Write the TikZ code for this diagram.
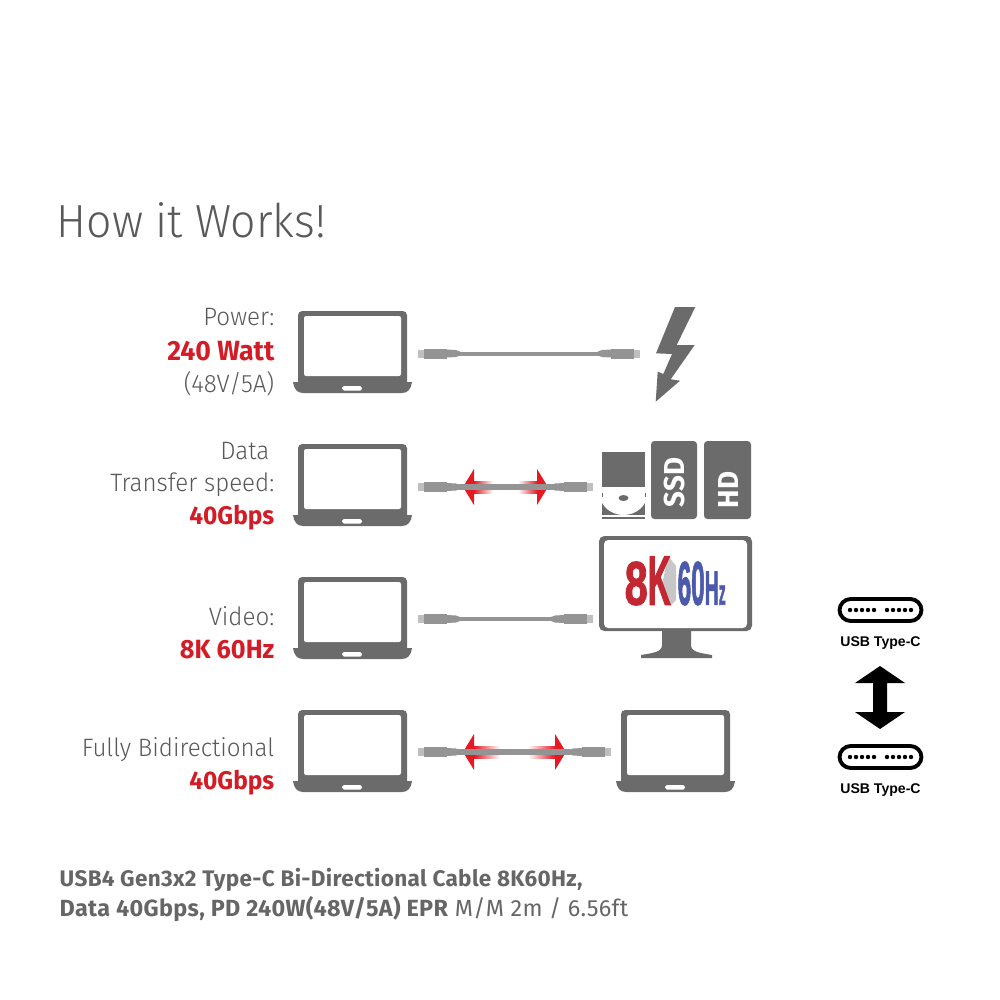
\documentclass[tikz,border=0pt]{standalone}
\usepackage{fontspec}
\usepackage{graphicx}
\setmainfont{Fira Sans Light}[BoldFont=Fira Sans Bold, FakeStretch=0.96]
\newfontfamily\capfont{Fira Sans}[BoldFont=Fira Sans Bold, LetterSpace=1.5]
\newfontfamily\arialfont{Liberation Sans}
\newfontfamily\screenfont{Liberation Sans Bold}[FakeBold=2]
\usetikzlibrary{positioning, calc}

\begin{document}
\begin{tikzpicture}[
    x=0.01cm, y=-0.01cm,
    % Styles
    label_thin/.style={font=\fontsize{7.15}{8}\selectfont, text=black!65, anchor=east, inner sep=0pt},
    label_red/.style={font=\fontsize{#1}{8}\selectfont\bfseries, text=red_dark, anchor=east, inner sep=0pt},
    usb_label/.style={font=\arialfont\fontsize{4}{5}\selectfont\bfseries, inner sep=0pt},
    usb_port/.style={draw=black, line width=1.1pt, fill=white, rounded corners=3.2pt},
    drive_text/.style={font=\fontsize{8.2}{9}\selectfont\bfseries, text=white, rotate=90, inner sep=0pt},
    screen_text/.style={inner sep=0pt, anchor=south west, font=\screenfont},
    laptop/.pic={
        \fill[icon_gray, rounded corners=1.2pt] (0,0) rectangle (109,75);
        \fill[white, rounded corners=0.6pt] (6,5) rectangle (103,65);
        \fill[icon_gray] (-5,71) -- (114,71) .. controls (113,78) and (110,82) .. (104,82) -- (5,82) .. controls (-1,82) and (-4,78) .. (-5,71) -- cycle;
        \fill[white, rounded corners=0.5pt] (44,75) rectangle (64,79.5);
    },
    cable/.pic={
        \fill[plug_light] (0,-4) rectangle (6,4);
        \fill[plug_gray] (6,-5) rectangle (29,5);
        \fill[plug_gray] (29,-4) -- (38,-3.5) -- (42,-2) -- (42,2) -- (38,3.5) -- (29,4) -- cycle;
    }
]
\colorlet{icon_gray}{black!58}
\colorlet{plug_gray}{black!42}
\colorlet{plug_light}{black!25}
\definecolor{red_dark}{RGB}{212,28,38}
\definecolor{red_arrow}{RGB}{230,25,35}
\definecolor{red_screen}{RGB}{195,40,50}
\definecolor{blue_text}{RGB}{75,90,170}

\useasboundingbox (0,0) rectangle (1000,1000);
\fill[white] (0,0) rectangle (1000,1000);

% Title
\node[anchor=west, inner sep=0pt, font=\fontsize{13.2}{15}\selectfont, text=black!65] (title) at (56,220) {How it Works!};

% 1. Row labels
\node[label_thin] (lbl_power) at (275,317.5) {Power:};
\node[label_red=7.9] (lbl_watt) at (275,351.5) {240 Watt};
\node[label_thin] (lbl_volt) at (275,383.5) {(48V/5A)};
\node[label_thin] (lbl_data) at (270,451.5) {Data};
\node[label_thin] (lbl_speed) at (275,484.5) {Transfer speed:};
\node[label_red=7.25] (lbl_gbps) at (275,517.5) {40Gbps};
\node[label_thin] (lbl_video) at (275,616.5) {Video:};
\node[label_red=7.5] (lbl_8k) at (275,649.5) {8K 60Hz};
\node[label_thin] (lbl_bidir) at (275,749.5) {Fully Bidirectional};
\node[label_red=7.25] (lbl_gbps_b) at (275,782.5) {40Gbps};

% 2. Laptops
\foreach \row/\ypos in {a/311, b/444, c/577, d/710} {
    \pic (lap_\row) at (298,\ypos) {laptop};
}
\pic (lap_e) at (621,710) {laptop};

% 3. Red arrows, under the cables
\foreach \ypos/\lefttip/\righttip/\lefttail/\righttail in {487/463/548/493/518, 752/463/566/500/528} {
    \fill[red_arrow] (\lefttip,\ypos) -- (\lefttip+11,\ypos-18) -- (\lefttip+11,\ypos+18) -- cycle;
    \fill[red_arrow] (\righttip,\ypos) -- (\righttip-11,\ypos-18) -- (\righttip-11,\ypos+18) -- cycle;
    \shade[left color=red_arrow, right color=white] (\lefttip+11,\ypos-6) rectangle (\lefttail,\ypos+6);
    \shade[left color=white, right color=red_arrow] (\righttail,\ypos-6) rectangle (\righttip-11,\ypos+6);
}

% 4. Cables
\foreach \ypos/\xend/\wire in {353.5/640/4, 487/593/6, 619/593/4, 752/611/6} {
    \coordinate (cab_l) at (418,\ypos);
    \coordinate (cab_r) at (\xend,\ypos);
    \draw[plug_gray, line width=\wire*0.2845pt] (cab_l) -- (cab_r);
    \pic at (cab_l) {cable};
    \pic[xscale=-1] at (cab_r) {cable};
}

% 5. Lightning
\fill[icon_gray] (675,307) -- (695.3,307) -- (676.7,345) -- (694.7,345) -- (670.7,379.3) -- (680,380.7) -- (655.7,401.7) -- (657.7,371.7) -- (663.3,374) -- (672,354) -- (656,353.3) -- cycle;

% 6. Drives
\fill[icon_gray] (602,503) rectangle (645,515);
\fill[white] (623.5,493) ellipse (24 and 22);
\fill[icon_gray] (602,452) rectangle (645,487);
\fill[icon_gray] (623.5,498) ellipse (5 and 3);
\fill[icon_gray] (601.5,493) rectangle (602.5,497);
\fill[icon_gray] (644.5,493) rectangle (645.5,497);
\fill[icon_gray] (602,516.5) rectangle (645,519);
\fill[icon_gray, rounded corners=1pt] (651,441) rectangle (697,519);
\fill[icon_gray, rounded corners=1pt] (704,441) rectangle (751,519);
\node[drive_text] (lbl_ssd) at (674,482.5) {SSD};
\node[drive_text] (lbl_hd) at (728,490) {HD};

% 7. Monitor
\fill[icon_gray, rounded corners=1.5pt] (599,536) rectangle (752,631);
\fill[white, rounded corners=1.2pt] (604,540) rectangle (747,628);
\fill[icon_gray] (662,631) -- (691,631) -- (691,645) .. controls (691,652) and (700,653) .. (712,655) -- (712,658) -- (641,658) -- (641,655) .. controls (653,653) and (662,652) .. (662,645) -- cycle;
\fill[black!22] (668,556) -- (676,566) -- (676,600) -- (670,606) -- (662,585) -- cycle;
\node[screen_text, text=red_screen] (lbl_8k_screen) at (624,606) {\resizebox{0.23cm}{0.43cm}{8}\resizebox{0.23cm}{0.48cm}{K}};
\node[screen_text, text=blue_text] (lbl_60_screen) at (677,606) {\resizebox{0.27cm}{0.43cm}{60}\resizebox{0.14cm}{0.33cm}{H}\resizebox{0.07cm}{0.19cm}{z}};

% 8. USB Type-C ends
\foreach \row/\ypos in {top/610, bot/757} {
    \draw[usb_port] (839.5,\ypos-11) rectangle (921.5,\ypos+11);
    \foreach \xpos in {850,856,862,868,874,887,893,899,905,911} {
        \fill (\xpos,\ypos) circle (2.2);
    }
}
\node[usb_label] (lbl_usb_top) at (880.5,643) {USB Type-C};
\node[usb_label] (lbl_usb_bot) at (880.5,790) {USB Type-C};
\fill[black] (880,666) -- (905,683) -- (887,683) -- (887,712) -- (905,712) -- (880,729) -- (855,712) -- (873,712) -- (873,683) -- (855,683) -- cycle;

% 9. Caption
\node[anchor=west, inner sep=0pt, font=\capfont\fontsize{6.4}{7}\selectfont\bfseries, text=black!60] (cap_a) at (59,880) {USB4 Gen3x2 Type-C Bi-Directional Cable 8K60Hz,};
\node[anchor=west, inner sep=0pt, font=\capfont\fontsize{6.65}{7}\selectfont, text=black!60] (cap_b) at (59,909) {\textbf{Data 40Gbps, PD 240W(48V/5A) EPR} M/M 2m / 6.56ft};

\end{tikzpicture}
\end{document}
